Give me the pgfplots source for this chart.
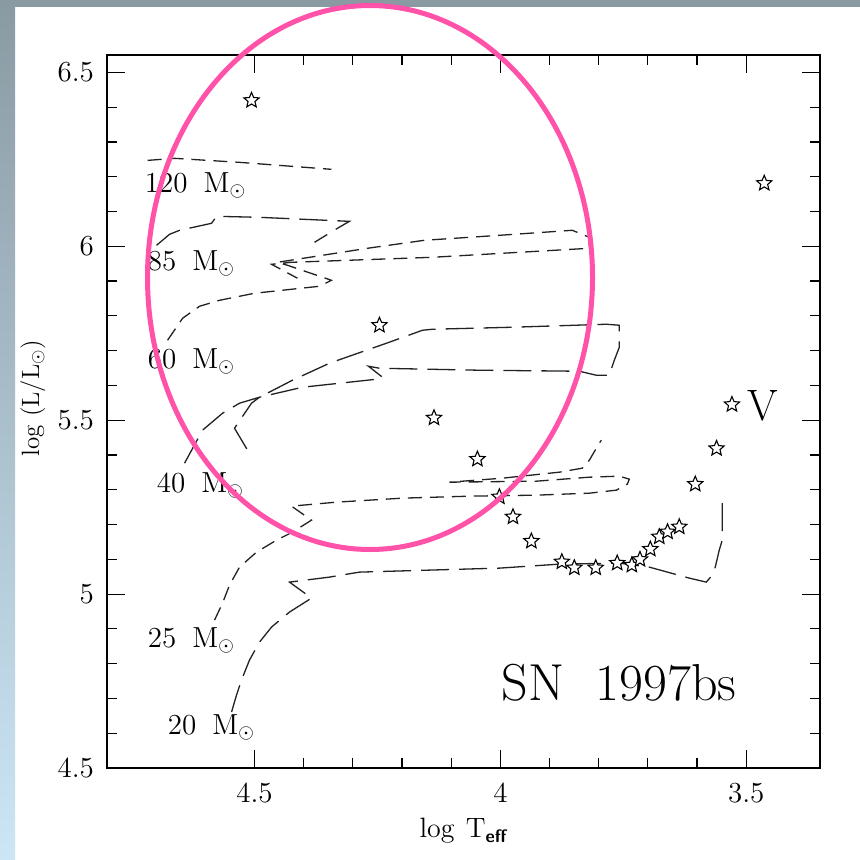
\documentclass[border=0pt]{standalone}
\usepackage{pgfplots}
\pgfplotsset{compat=1.18}
\definecolor{bandtop}{HTML}{8A9AA3}
\definecolor{bandbot}{HTML}{CCE6F6}
\definecolor{hotpink}{HTML}{FF52A8}
\definecolor{trk}{HTML}{222222}
\tikzset{
  short/.style={trk, line width=0.65pt, dash pattern=on 7pt off 4pt},
  long/.style={trk, line width=0.65pt, dash pattern=on 14pt off 5pt},
  mlab/.style={anchor=base west, inner sep=0pt, font=\fontsize{14.5}{14.5}\selectfont},
}
\pgfdeclareplotmark{ostar}{%
  \pgfpathmoveto{\pgfpointpolar{90}{\pgfplotmarksize}}%
  \pgfpathlineto{\pgfpointpolar{126}{0.45\pgfplotmarksize}}%
  \pgfpathlineto{\pgfpointpolar{162}{\pgfplotmarksize}}%
  \pgfpathlineto{\pgfpointpolar{198}{0.45\pgfplotmarksize}}%
  \pgfpathlineto{\pgfpointpolar{234}{\pgfplotmarksize}}%
  \pgfpathlineto{\pgfpointpolar{270}{0.45\pgfplotmarksize}}%
  \pgfpathlineto{\pgfpointpolar{306}{\pgfplotmarksize}}%
  \pgfpathlineto{\pgfpointpolar{342}{0.45\pgfplotmarksize}}%
  \pgfpathlineto{\pgfpointpolar{18}{\pgfplotmarksize}}%
  \pgfpathlineto{\pgfpointpolar{54}{0.45\pgfplotmarksize}}%
  \pgfpathclose
  \pgfusepathqfillstroke
}
\begin{document}
\begin{tikzpicture}
\useasboundingbox (0,0) rectangle (430pt,429.5pt);
\fill[white] (0,0) rectangle (430pt,429.5pt);
\shade[top color=bandtop, bottom color=bandbot] (0,0) rectangle (7.5pt,429.5pt);
\fill[bandtop] (0,425.8pt) rectangle (430pt,429.5pt);
\begin{axis}[
  at={(53.5pt,45.5pt)}, anchor=south west,
  scale only axis, width=356.5pt, height=356.5pt,
  x dir=reverse,
  xmin=3.35, xmax=4.8, ymin=4.5, ymax=6.55,
  xtick={3.5,4,4.5}, ytick={4.5,5,5.5,6,6.5},
  minor tick num=4,
  tick align=inside,
  major tick length=9pt, minor tick length=5pt,
  tick style={black, line width=0.6pt},
  axis line style={black, line width=0.6pt},
  /pgf/number format/assume math mode=true,
  ticklabel style={font=\fontsize{14.5}{14.5}\selectfont},
  yticklabel style={xshift=-3pt},
  xticklabel style={yshift=-4pt},
  clip=false,
]
% 120 Msun
\addplot[short, no markers] coordinates {(4.7175,6.247) (4.6626,6.2529) (4.5305,6.2414) (4.3435,6.2213)};
% 85 Msun
\addplot[long, no markers] coordinates {(4.6992,6.0029) (4.6728,6.0345) (4.6524,6.046) (4.5874,6.0661) (4.5772,6.0862) (4.4898,6.0833) (4.3069,6.0718) (4.3313,6.0518) (4.378,6.0115)};
% 60 Msun
\addplot[short, no markers] coordinates {(4.6768,5.7299) (4.6463,5.7931) (4.6118,5.8276) (4.5711,5.8448) (4.5,5.865) (4.3679,5.8851) (4.3435,5.9023) (4.4329,5.9454) (4.4533,5.954) (4.2703,5.9943) (4.1545,6.0173) (4.002,6.0316) (3.8537,6.046) (3.8191,6.0259) (3.8191,5.9943) (4.1382,5.9684) (4.4248,5.954) (4.4654,5.9483) (4.4126,5.9081)};
% 40 Msun
\addplot[long, no markers] coordinates {(4.6423,5.3764) (4.6057,5.4713) (4.565,5.5201) (4.5305,5.5489) (4.4898,5.5661) (4.4228,5.615) (4.3476,5.6638) (4.2724,5.7012) (4.2317,5.7213) (4.1585,5.7586) (4.1382,5.7615) (3.9756,5.7673) (3.7846,5.7759) (3.7581,5.773) (3.7581,5.7098) (3.7683,5.6724) (3.7785,5.6293) (3.8049,5.6293) (3.8394,5.6408) (4.0427,5.6437) (4.2459,5.6494) (4.2683,5.6552) (4.2398,5.6236) (4.252,5.6178) (4.4024,5.5948) (4.4898,5.5661) (4.5061,5.5489) (4.5407,5.477) (4.5081,5.3994)};
% 25 Msun
\addplot[short, no markers] coordinates {(4.5813,4.9253) (4.565,4.9741) (4.5508,5.0259) (4.5305,5.0776) (4.4959,5.1207) (4.4553,5.1552) (4.4228,5.1782) (4.3841,5.2127) (4.4248,5.2529) (4.3333,5.2644) (4.1992,5.2759) (4.063,5.2816) (3.9268,5.2845) (3.8191,5.2902) (3.7642,5.2989) (3.7419,5.3161) (3.7378,5.3305) (3.7581,5.3391) (3.8191,5.3362) (3.9268,5.3247) (4.1037,5.3218) (3.9959,5.3333) (3.8801,5.3506) (3.8333,5.3621) (3.8191,5.3851) (3.7988,5.4339) (3.7947,5.4425)};
% 20 Msun
\addplot[long, no markers] coordinates {(4.5467,4.6609) (4.5366,4.7098) (4.5264,4.7529) (4.5102,4.8103) (4.4898,4.8621) (4.4654,4.9052) (4.4289,4.9483) (4.3841,4.9885) (4.4289,5.0345) (4.3476,5.0489) (4.2866,5.0632) (4.1443,5.069) (4.002,5.0747) (3.8801,5.0862) (3.7581,5.0891) (3.6972,5.0776) (3.6159,5.046) (3.5813,5.0345) (3.5691,5.0546) (3.563,5.0776) (3.5549,5.1264) (3.5488,5.1552) (3.5488,5.2701)};
% SN 1997bs photometry
\addplot[only marks, mark=ostar, mark size=4pt, mark options={draw=black, fill=white, line width=0.55pt}] coordinates {
(4.5061,6.4195) (4.2459,5.773) (4.135,5.5066) (4.0467,5.388) (4.002,5.2796) (3.9744,5.2221) (3.937,5.1523) (3.875,5.0928) (3.8496,5.0756) (3.8061,5.0756) (3.7624,5.0891) (3.7327,5.0833) (3.7161,5.0997) (3.6951,5.1293) (3.6768,5.1647) (3.66,5.179) (3.6362,5.1934) (3.6037,5.3161) (3.5604,5.4187) (3.5291,5.5451) (3.4634,6.1811)};
\node[mlab] at (axis cs:4.7236,6.1552) {120\hspace{0.55em}M$_\odot$};
\node[mlab] at (axis cs:4.7175,5.9311) {85\hspace{0.55em}M$_\odot$};
\node[mlab] at (axis cs:4.7175,5.6494) {60\hspace{0.55em}M$_\odot$};
\node[mlab] at (axis cs:4.6992,5.2931) {40\hspace{0.55em}M$_\odot$};
\node[mlab] at (axis cs:4.7175,4.8477) {25\hspace{0.55em}M$_\odot$};
\node[mlab] at (axis cs:4.6768,4.5977) {20\hspace{0.55em}M$_\odot$};
\node[anchor=base west, inner sep=0pt, font=\fontsize{22}{22}\selectfont] at (axis cs:3.498,5.5) {V};
\node[anchor=base west, inner sep=0pt, font=\fontsize{26}{26}\selectfont] at (axis cs:3.998,4.6954) {SN\hspace{0.6em}1997bs};
\end{axis}
\node[font=\fontsize{14}{14}\selectfont, anchor=base] at (231.5pt,11pt) {log\hspace{0.4em}T\raisebox{-0.45ex}{\fontsize{9}{9}\selectfont\sffamily\bfseries eff}};
\node[font=\fontsize{12.5}{12.5}\selectfont, rotate=90] at (16.5pt,230.5pt) {log (L/L$_\odot$)};
\draw[hotpink, line width=2.5pt] (185pt,290.75pt) ellipse [x radius=111.25pt, y radius=136pt];
\end{tikzpicture}
\end{document}
